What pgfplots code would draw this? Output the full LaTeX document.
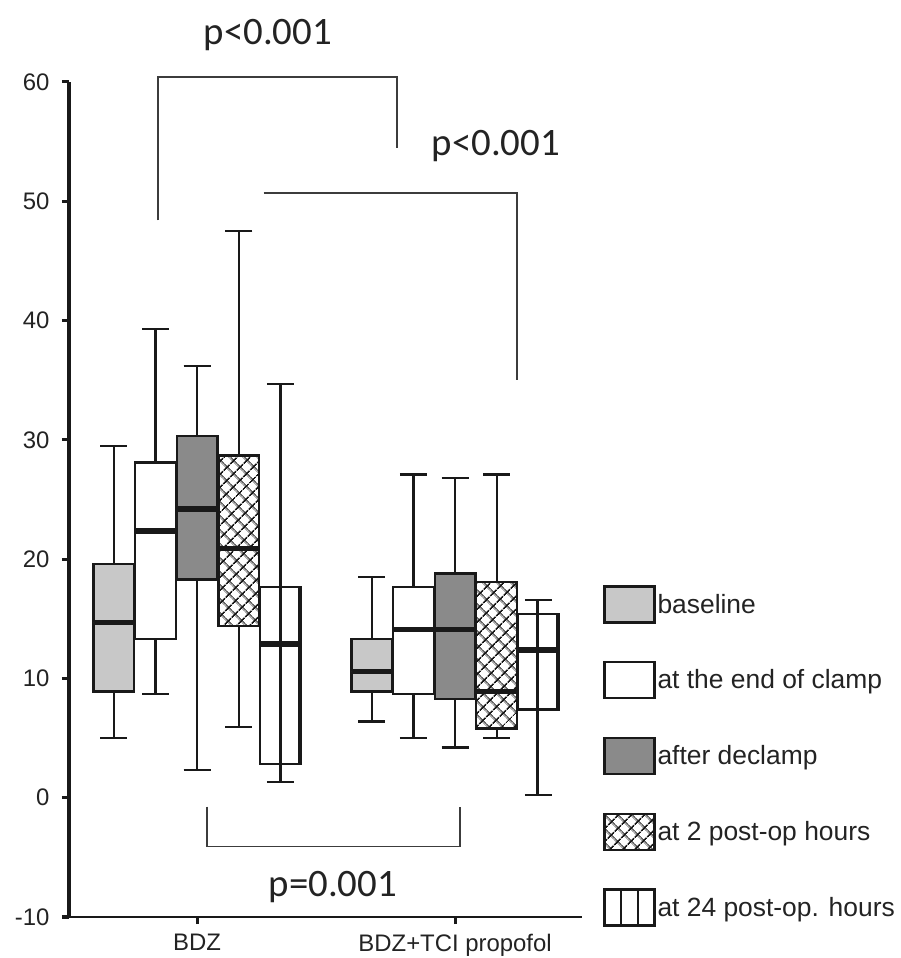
\documentclass[border=0pt]{standalone}
\usepackage{fontspec}
\setmainfont{Liberation Sans}
\newfontfamily\pfont{Carlito}
\usepackage{pgfplots}
\pgfplotsset{compat=1.18}
\usepgfplotslibrary{statistics}
\usetikzlibrary{patterns.meta}

\definecolor{lightbox}{RGB}{200,200,200}
\definecolor{darkbox}{RGB}{138,138,138}
\definecolor{ink}{RGB}{25,25,25}
\definecolor{txt}{RGB}{35,35,35}

\pgfplotsset{
  bx/.style={draw=ink, line width=2.3bp, forget plot},
  hatchbox/.style={pattern={Hatch[angle=45,distance=10bp,line width=1.8bp]}, pattern color=ink},
  bracket/.style={draw=ink!85, line width=1.6bp, forget plot},
}

\begin{document}
\begin{tikzpicture}
\useasboundingbox (0,0) rectangle (901bp,958bp);
\begin{axis}[
  at={(69bp,41bp)}, anchor=south west,
  scale only axis, width=513bp, height=835bp,
  xmin=-0.08, xmax=12.25, ymin=-10, ymax=60,
  clip=false,
  axis x line*=bottom, axis y line*=left,
  x axis line style={line width=2.2bp, ink, -},
  y axis line style={line width=3bp, ink, -},
  xtick={3,9.2}, xticklabels={BDZ, BDZ+TCI propofol},
  ytick={-10,0,10,20,30,40,50,60},
  tick align=outside, major tick length=7bp,
  tick style={line width=3bp, ink},
  tick label style={font=\fontsize{24}{27}\selectfont, text=txt},
  yticklabel style={xshift=-9bp},
  xticklabel style={yshift=-7bp},
  /pgf/number format/assume math mode=true,
  boxplot/draw direction=y,
  boxplot/box extend=0.98,
  boxplot/whisker extend=0.65,
  boxplot/every box/.style={line width=2.3bp},
  boxplot/every whisker/.style={line width=2.3bp},
  boxplot/every median/.style={line width=5.5bp},
  legend image code/.code={\draw[#1, line width=2.3bp] (0bp,-18bp) rectangle (50bp,18bp);},
  legend style={at={(1.041,0.3976)}, anchor=north west, draw=none, fill=none,
    inner sep=0pt, row sep=37.5bp, font=\fontsize{26.5}{30}\selectfont, text=txt,
    cells={anchor=west}},
]

% ---- BDZ ----
\addplot[bx, fill=lightbox, boxplot prepared={draw position=1,
  lower whisker=5.0, lower quartile=8.9, median=14.7, upper quartile=19.6, upper whisker=29.5}] coordinates {};
\addplot[bx, fill=white, boxplot prepared={draw position=2,
  lower whisker=8.7, lower quartile=13.3, median=22.35, upper quartile=28.1, upper whisker=39.3}] coordinates {};
\addplot[bx, fill=darkbox, boxplot prepared={draw position=3,
  lower whisker=2.35, lower quartile=18.3, median=24.2, upper quartile=30.3, upper whisker=36.2}] coordinates {};
\addplot[bx, hatchbox, boxplot prepared={draw position=4,
  lower whisker=5.9, lower quartile=14.4, median=20.9, upper quartile=28.7, upper whisker=47.5}] coordinates {};
\addplot[bx, fill=white, boxplot prepared={draw position=5,
  lower whisker=1.3, lower quartile=2.8, median=12.9, upper quartile=17.65, upper whisker=34.7}] coordinates {};
\addplot[bx] coordinates {(5,1.3) (5,34.7)};
\addplot[bx, line width=4bp] coordinates {(5.47,2.8) (5.47,17.65)};

% ---- BDZ+TCI propofol ----
\addplot[bx, fill=lightbox, boxplot prepared={draw position=7.2,
  lower whisker=6.4, lower quartile=8.9, median=10.6, upper quartile=13.3, upper whisker=18.5}] coordinates {};
\addplot[bx, fill=white, boxplot prepared={draw position=8.2,
  lower whisker=5.0, lower quartile=8.7, median=14.1, upper quartile=17.65, upper whisker=27.1}] coordinates {};
\addplot[bx, fill=darkbox, boxplot prepared={draw position=9.2,
  lower whisker=4.2, lower quartile=8.3, median=14.1, upper quartile=18.8, upper whisker=26.8}] coordinates {};
\addplot[bx, hatchbox, boxplot prepared={draw position=10.2,
  lower whisker=5.0, lower quartile=5.8, median=8.9, upper quartile=18.1, upper whisker=27.1}] coordinates {};
\addplot[bx, fill=white, boxplot prepared={draw position=11.2,
  lower whisker=0.25, lower quartile=7.4, median=12.4, upper quartile=15.4, upper whisker=16.6}] coordinates {};
\addplot[bx] coordinates {(11.18,0.25) (11.18,16.6)};
\addplot[bx, line width=4bp] coordinates {(11.67,7.4) (11.67,15.4)};

% ---- significance brackets ----
\addplot[bracket] coordinates {(2.06,48.4) (2.06,60.4) (7.8,60.4) (7.8,54.5)};
\addplot[bracket] coordinates {(4.6,50.7) (10.69,50.7) (10.69,35.0)};
\addplot[bracket] coordinates {(3.24,-0.75) (3.24,-4.1) (9.32,-4.1) (9.32,-0.75)};

\node[font=\pfont\fontsize{39}{41}\selectfont, text=txt] at (axis cs:4.7,63.9) {p<0.001};
\node[font=\pfont\fontsize{39}{41}\selectfont, text=txt] at (axis cs:10.18,54.6) {p<0.001};
\node[font=\pfont\fontsize{39}{41}\selectfont, text=txt] at (axis cs:6.26,-7.5) {p=0.001};

% ---- legend ----
\addlegendimage{fill=lightbox, draw=ink}
\addlegendentry{baseline}
\addlegendimage{fill=white, draw=ink}
\addlegendentry{at the end of clamp}
\addlegendimage{fill=darkbox, draw=ink}
\addlegendentry{after declamp}
\addlegendimage{draw=ink, pattern={Hatch[angle=45,distance=10bp,line width=1.8bp]}, pattern color=ink}
\addlegendentry{at 2 post-op hours}
\addlegendimage{legend image code/.code={
  \draw[draw=ink, line width=2.3bp] (0bp,-18bp) rectangle (50bp,18bp);
  \draw[draw=ink, line width=1.8bp] (16.7bp,-18bp) -- (16.7bp,18bp) (33.3bp,-18bp) -- (33.3bp,18bp);}}
\addlegendentry{at 24 post-op. hours}
\end{axis}
\end{tikzpicture}
\end{document}
